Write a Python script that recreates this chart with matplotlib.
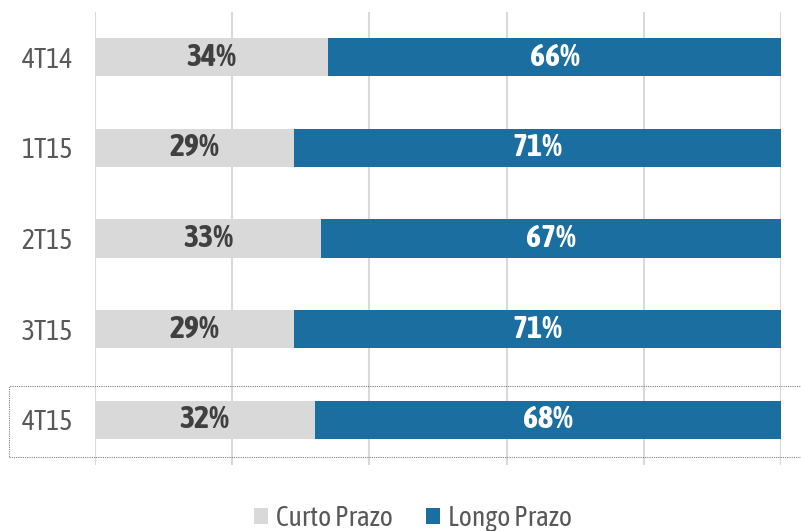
import matplotlib.pyplot as plt
from matplotlib.patches import Rectangle
from matplotlib import font_manager

# trimestres e composicao da divida (%)
trimestres = ['4T14', '1T15', '2T15', '3T15', '4T15']
curto_prazo = [34, 29, 33, 29, 32]
longo_prazo = [66, 71, 67, 71, 68]

cor_curto = '#D9D9D9'
cor_longo = '#1B6EA0'
cor_texto = '#595959'

# fonte estreita, de preferencia com negrito
fontes = font_manager.fontManager.ttflist
estreitas = {}
for f in fontes:
    if 'Narrow' in f.name or 'Condensed' in f.name:
        peso = f.weight if isinstance(f.weight, int) else 400
        estreitas.setdefault(f.name, set()).add(peso)
com_negrito = sorted(n for n, p in estreitas.items() if max(p) >= 700)
if 'Liberation Sans Narrow' in com_negrito:
    fonte = 'Liberation Sans Narrow'
elif com_negrito:
    fonte = com_negrito[0]
elif estreitas:
    fonte = sorted(estreitas)[0]
else:
    fonte = 'Liberation Sans'
plt.rcParams['font.family'] = [fonte, 'DejaVu Sans']

fig = plt.figure(figsize=(8.01, 5.31), dpi=100)
ax = fig.add_axes([95 / 801, 1 - 465 / 531, (781 - 95) / 801, 453 / 531])

y = list(range(len(trimestres)))
ax.barh(y, curto_prazo, height=0.42, color=cor_curto, label='Curto Prazo')
ax.barh(y, longo_prazo, left=curto_prazo, height=0.42, color=cor_longo, label='Longo Prazo')

for i in y:
    ax.text(curto_prazo[i] / 2, i, f'{curto_prazo[i]}%', ha='center', va='center',
            fontsize=23, fontweight='bold', color='#404040')
    ax.text(curto_prazo[i] + longo_prazo[i] / 2, i, f'{longo_prazo[i]}%', ha='center',
            va='center', fontsize=23, fontweight='bold', color='white')

ax.set_xlim(0, 100)
ax.set_ylim(4.5, -0.5)
ax.set_xticks([0, 20, 40, 60, 80, 100])
ax.set_xticklabels([])
ax.set_yticks(y)
ax.set_yticklabels(trimestres, fontsize=20, color=cor_texto)
ax.tick_params(length=0, pad=16)
ax.grid(axis='x', color='#D9D9D9', linewidth=1.5)
ax.set_axisbelow(True)
for s in ax.spines.values():
    s.set_visible(False)

# destaque do ultimo trimestre
fig.patches.append(Rectangle((9 / 801, 1 - 457 / 531), 800 / 801, 71 / 531,
                             transform=fig.transFigure, fill=False,
                             edgecolor='#808080', linestyle=(0, (1, 1)), linewidth=0.8))

fig.legend(loc='center', bbox_to_anchor=(413 / 801, 1 - 518 / 531), ncol=2, frameon=False,
           fontsize=20, labelcolor=cor_texto, handlelength=0.5, handleheight=0.5,
           handletextpad=0.3, columnspacing=1.2)

fig.savefig('out.png', dpi=100)
